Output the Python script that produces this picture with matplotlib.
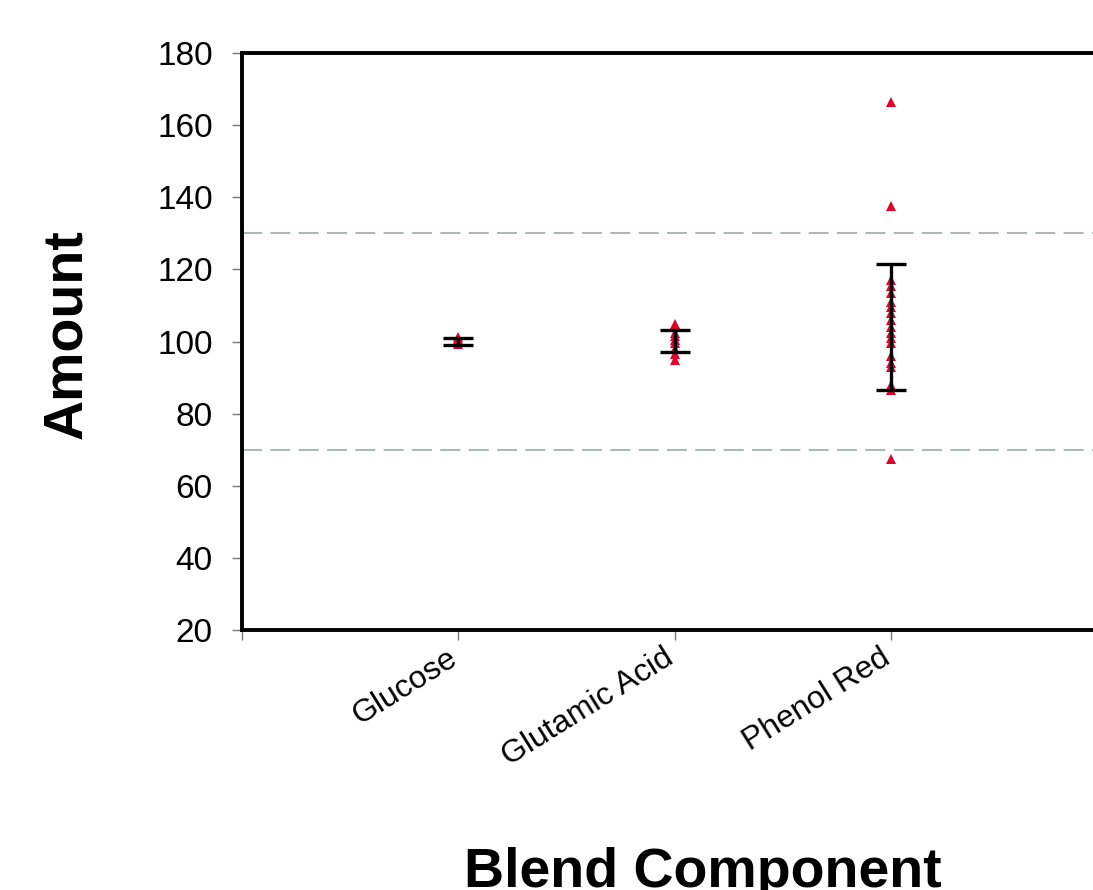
import matplotlib
matplotlib.use('Agg')
import matplotlib.pyplot as plt
from matplotlib.transforms import ScaledTranslation

plt.rcParams['font.family'] = ['Liberation Sans', 'DejaVu Sans']

# category names and positions on the category axis
categories = ['Glucose', 'Glutamic Acid', 'Phenol Red']
positions = [1, 2, 3]

# individual measured amounts per component
glucose = [99.3, 99.8, 100.2, 100.6, 101.2]
glutamic = [95.0, 96.5, 98.0, 99.5, 100.5, 101.5, 102.5, 104.0, 105.0]
phenol = [166.3, 137.5, 117.0, 115.5, 113.5, 111.0, 109.5, 108.0, 106.0,
          104.0, 102.5, 101.0, 99.5, 96.0, 94.0, 93.0, 88.0, 86.5, 67.5]

# error bar limits (low, high) per component
err_low = [99.0, 97.0, 86.5]
err_high = [101.0, 103.3, 121.5]

# acceptance limits
limits = [70, 130]

fig = plt.figure(figsize=(10.93, 8.90), dpi=100)
ax = fig.add_axes([0.2214, 0.2921, 0.7923, 0.6483])

for pos, vals in zip(positions, [glucose, glutamic, phenol]):
    ax.plot([pos] * len(vals), vals, linestyle='none', marker='^',
            markersize=7.5, color='#e2002b', markeredgewidth=0, zorder=3)

centers = [(lo + hi) / 2 for lo, hi in zip(err_low, err_high)]
halves = [(hi - lo) / 2 for lo, hi in zip(err_low, err_high)]
ax.errorbar(positions, centers, yerr=halves, fmt='none', ecolor='black',
            elinewidth=2.4, capsize=11, capthick=2.4, zorder=4)

for lim in limits:
    ax.axhline(lim, color='#9aaca6', linewidth=1.2, dashes=(12, 5), zorder=1)

ax.set_ylim(20, 180)
ax.set_yticks(range(20, 181, 20))
ax.set_xlim(0, 4)
ax.set_xticks([0] + positions)
ax.set_xticklabels([])

# category labels, rotated and ending just left of each tick
shift = ScaledTranslation(-0.12, -0.13, fig.dpi_scale_trans)
for pos, name in zip(positions, categories):
    ax.text(pos, 0, name, transform=ax.get_xaxis_transform() + shift,
            rotation=32, rotation_mode='anchor', ha='right', va='top',
            fontsize=23)

ax.tick_params(axis='y', labelsize=24, length=7, width=1, color='#777777',
               pad=14)
ax.tick_params(axis='x', length=7, width=1, color='#777777')

for side in ['left', 'top', 'bottom']:
    ax.spines[side].set_linewidth(2.8)
ax.spines['right'].set_visible(False)

fig.text(0.061, 0.625, 'Amount', rotation=90, fontsize=40,
         fontweight='bold', ha='center', va='center')
fig.text(0.643, 0.003, 'Blend Component', fontsize=40, fontweight='bold',
         ha='center', va='baseline')

fig.savefig('out.png', dpi=100)
